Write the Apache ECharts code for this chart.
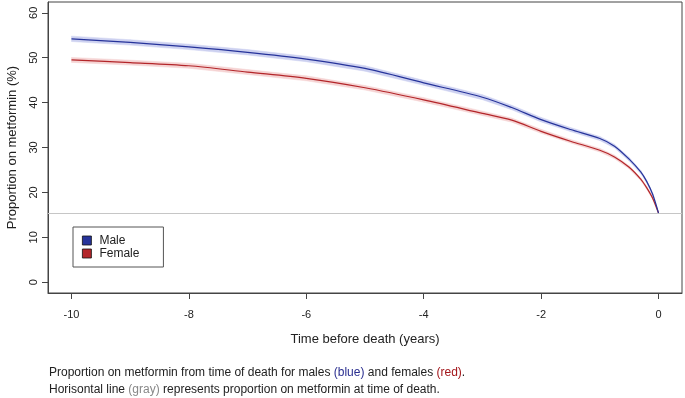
<!DOCTYPE html>
<html>
<head>
<meta charset="utf-8">
<script src="https://cdn.jsdelivr.net/npm/echarts@6/dist/echarts.min.js"></script>
<style>
  html, body { margin: 0; padding: 0; background: #fff; }
  #chart { width: 685px; height: 398px; }
</style>
</head>
<body>
<div id="chart"></div>
<script>
// years before death
var times = [-10, -9, -8, -7, -6, -5, -4, -3, -2.5, -2, -1.5, -1, -0.75, -0.5, -0.3, -0.2, -0.1, 0];
var male = [54.2, 53.4, 52.4, 51.2, 49.7, 47.6, 44.4, 41.2, 38.9, 36.2, 34.0, 32.0, 30.3, 27.4, 24.5, 22.4, 19.6, 15.4];
var female = [49.5, 48.9, 48.2, 46.8, 45.4, 43.3, 40.6, 37.6, 36.1, 33.6, 31.4, 29.4, 27.9, 25.6, 22.9, 21.0, 18.7, 15.4];
// half width of the shaded confidence band
var maleHalf = [0.6, 0.6, 0.6, 0.6, 0.6, 0.6, 0.55, 0.55, 0.5, 0.5, 0.45, 0.45, 0.4, 0.4, 0.35, 0.3, 0.3, 0.2];
var femaleHalf = [0.55, 0.55, 0.55, 0.55, 0.55, 0.5, 0.5, 0.5, 0.45, 0.45, 0.4, 0.4, 0.4, 0.35, 0.3, 0.3, 0.25, 0.2];
var deathLevel = 15.4;
var xTicks = [-10, -8, -6, -4, -2, 0];
var yTicks = [0, 10, 20, 30, 40, 50, 60];

var maleColor = '#26339a';
var femaleColor = '#b3262a';

function pairs(vals) {
    return times.map(function (t, i) { return [t, vals[i]]; });
}
// one quad per segment: [t0, lo0, hi0, t1, lo1, hi1]
function bandSegs(vals, half) {
    var out = [];
    for (var i = 0; i < times.length - 1; i++) {
        out.push([times[i], vals[i] - half[i], vals[i] + half[i],
                  times[i + 1], vals[i + 1] - half[i + 1], vals[i + 1] + half[i + 1]]);
    }
    return out;
}
function bandSeries(name, vals, half, color) {
    return {
        name: name, type: 'custom', silent: true, z: 1,
        data: bandSegs(vals, half),
        encode: { x: [0, 3], y: [1, 2, 4, 5] },
        renderItem: function (params, api) {
            var a = api.coord([api.value(0), api.value(1)]);
            var b = api.coord([api.value(0), api.value(2)]);
            var c = api.coord([api.value(3), api.value(5)]);
            var d = api.coord([api.value(3), api.value(4)]);
            return {
                type: 'polygon',
                shape: { points: [a, b, c, d] },
                style: { fill: color, stroke: color, lineWidth: 0.5 }
            };
        }
    };
}

var axisColor = '#444';
var txt = '#222';
var font = 'Liberation Sans, Arial, sans-serif';

var option = {
    animation: false,
    textStyle: { fontFamily: font },
    grid: {
        left: 48, right: 3, top: 2, bottom: 105,
        outerBoundsMode: 'none',
        containLabel: false,
        show: true, borderColor: axisColor, borderWidth: 1
    },
    legend: {
        left: 73, top: 227,
        orient: 'vertical',
        borderColor: '#555', borderWidth: 1,
        padding: [7, 24, 7, 9],
        itemWidth: 9, itemHeight: 9, itemGap: 0, itemTextGap: 9,
        textStyle: { fontSize: 12, color: txt, fontFamily: font, lineHeight: 13, padding: [0, 0, 0, 3] },
        data: [
            { name: 'Male', icon: 'rect', itemStyle: { color: maleColor, borderColor: '#111', borderWidth: 0.8 } },
            { name: 'Female', icon: 'rect', itemStyle: { color: femaleColor, borderColor: '#111', borderWidth: 0.8 } }
        ]
    },
    xAxis: {
        type: 'value',
        min: -10.4, max: 0.4,
        name: 'Time before death (years)',
        nameLocation: 'middle',
        nameGap: 40,
        nameTextStyle: { fontSize: 13, color: txt },
        axisLine: { show: true, onZero: false, lineStyle: { color: axisColor } },
        axisTick: { show: true, length: 6, lineStyle: { color: axisColor }, customValues: xTicks },
        axisLabel: { color: txt, fontSize: 11, margin: 16, customValues: xTicks },
        splitLine: { show: false }
    },
    yAxis: {
        type: 'value',
        min: -2.4, max: 62.4,
        name: 'Proportion on metformin (%)',
        nameLocation: 'middle',
        nameGap: 29,
        nameTextStyle: { fontSize: 13, color: txt },
        axisLine: { show: true, onZero: false, lineStyle: { color: axisColor } },
        axisTick: { show: true, length: 6, lineStyle: { color: axisColor }, customValues: yTicks },
        axisLabel: { color: txt, fontSize: 11, margin: 9, rotate: 90, customValues: yTicks },
        splitLine: { show: false }
    },
    series: [
        bandSeries('maleBand', male, maleHalf, '#cdd1f0'),
        bandSeries('femaleBand', female, femaleHalf, '#f5d3d3'),
        {
            name: 'Male', type: 'line', data: pairs(male), smooth: 0.3,
            symbol: 'none', itemStyle: { color: maleColor }, lineStyle: { color: maleColor, width: 1.2 },
            z: 5,
            markLine: {
                silent: true, symbol: 'none', label: { show: false },
                lineStyle: { color: '#c6c6c6', width: 1, type: 'solid' },
                data: [{ yAxis: deathLevel }]
            }
        },
        {
            name: 'Female', type: 'line', data: pairs(female), smooth: 0.3,
            symbol: 'none', itemStyle: { color: femaleColor }, lineStyle: { color: femaleColor, width: 1.2 },
            z: 4
        }
    ],
    graphic: [{
        type: 'text',
        left: 49, top: 367,
        style: {
            text: '{a|Proportion on metformin from time of death for males }{b|(blue)}{a| and females }{r|(red)}{a|.}\n' +
                  '{a|Horisontal line }{g|(gray)}{a| represents proportion on metformin at time of death.}',
            rich: {
                a: { fontSize: 12, fill: txt, fontFamily: font, lineHeight: 17 },
                b: { fontSize: 12, fill: '#2a2e8f', fontFamily: font, lineHeight: 17 },
                r: { fontSize: 12, fill: '#a3161b', fontFamily: font, lineHeight: 17 },
                g: { fontSize: 12, fill: '#888', fontFamily: font, lineHeight: 17 }
            }
        }
    }]
};

var chart = echarts.init(document.getElementById('chart'));
chart.setOption(option);
</script>
</body>
</html>
